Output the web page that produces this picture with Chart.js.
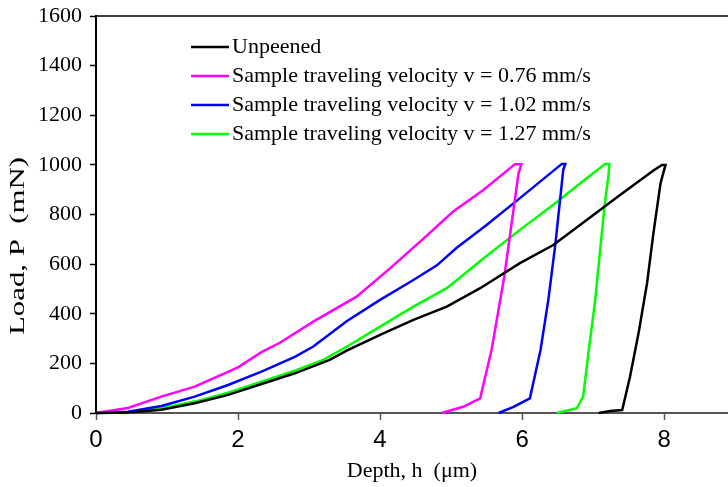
<!DOCTYPE html>
<html><head><meta charset="utf-8">
<script src="https://cdn.jsdelivr.net/npm/chart.js@4.4.0/dist/chart.umd.min.js"></script>
<style>html,body{margin:0;padding:0;background:#fff;}#wrap{width:728px;height:487px;position:relative;}</style>
</head><body><div id="wrap"><canvas id="c" width="728" height="487"></canvas></div>
<script>
const seriesLabels = ["Unpeened","Sample traveling velocity v = 0.76 mm/s","Sample traveling velocity v = 1.02 mm/s","Sample traveling velocity v = 1.27 mm/s"];
const seriesColors = ["#000000","#FF00FF","#0000FF","#00FF00"];

const unpeenedDepth = [0,0.45,0.92,1.39,1.86,2.33,2.8,3.29,3.53,4.0,4.47,4.94,5.41,5.97,6.44,6.91,7.38,7.85,7.97,8.02,7.95,7.85,7.76,7.64,7.52,7.41,7.24,7.08];
const unpeenedLoad  = [0,2,13,39,73,117,160,214,251,315,375,429,503,604,677,778,879,977,1000,1000,926,725,523,321,146,12,8,0];

const v076Depth = [0,0.45,0.92,1.39,2.0,2.33,2.59,3.06,3.67,4.14,4.6,5.03,5.45,5.9,5.99,5.95,5.75,5.57,5.41,5.17,4.87];
const v076Load  = [0,20,66,106,184,245,283,368,469,583,700,812,898,1003,1003,966,550,254,59,25,0];

const v102Depth = [0,0.45,0.92,1.39,1.86,2.33,2.8,3.06,3.53,4.0,4.47,4.8,5.08,5.5,5.97,6.56,6.61,6.58,6.47,6.37,6.26,6.11,5.88,5.67];
const v102Load  = [0,5,28,66,113,167,226,268,370,456,536,595,666,758,866,1004,1004,980,684,456,254,59,25,0];

const v127Depth = [0,0.45,0.92,1.39,1.86,2.33,2.8,3.2,3.53,4.0,4.47,4.94,5.5,5.97,6.44,6.91,7.17,7.23,7.22,7.16,7.10,7.03,6.94,6.86,6.77,6.49];
const v127Load  = [0,3,19,46,82,126,171,214,267,348,429,503,633,738,839,946,1004,1004,966,832,657,456,254,66,19,0];

const xTicks = [0,2,4,6,8];
const yTicks = [0,200,400,600,800,1000,1200,1400,1600];
const xTitle = "Depth, h  (\u03bcm)";
const yTitle = "Load, P  (mN)";

function pts(xs, ys){ return xs.map((x,i)=>({x:x, y:ys[i]})); }
const allDepth = [unpeenedDepth, v076Depth, v102Depth, v127Depth];
const allLoad = [unpeenedLoad, v076Load, v102Load, v127Load];

const datasets = seriesLabels.map((lab,i)=>({
  label: lab,
  data: pts(allDepth[i], allLoad[i]),
  borderColor: seriesColors[i],
  backgroundColor: seriesColors[i],
  borderWidth: 2.5,
  pointRadius: 0,
  showLine: true,
  fill: false,
  tension: 0,
  clip: false
}));

const SERIF = "'Liberation Serif','Times New Roman',serif";
const SANS = "'Liberation Sans',Arial,sans-serif";

const extras = {
  id: 'extras',
  afterDraw(chart){
    const ctx = chart.ctx, a = chart.chartArea;
    ctx.save();
    ctx.strokeStyle = '#000'; ctx.lineWidth = 1.5;
    ctx.beginPath(); ctx.moveTo(a.left, a.top); ctx.lineTo(a.right, a.top); ctx.stroke();
    const rows = [47, 76, 105, 134];
    chart.data.datasets.forEach((ds,i)=>{
      const y = rows[i];
      ctx.strokeStyle = ds.borderColor; ctx.lineWidth = 2.5;
      ctx.beginPath(); ctx.moveTo(191, y); ctx.lineTo(229, y); ctx.stroke();
      ctx.fillStyle = '#000';
      ctx.font = "22px " + SERIF;
      ctx.textBaseline = 'middle'; ctx.textAlign = 'left';
      ctx.fillText(ds.label, 232, y);
    });
    // y axis title (stretched along its length like the reference)
    ctx.translate(18, 246);
    ctx.rotate(-Math.PI / 2);
    ctx.scale(1.4, 1);
    ctx.font = "22px " + SERIF;
    ctx.textAlign = 'center'; ctx.textBaseline = 'middle';
    ctx.fillStyle = '#000';
    ctx.fillText(yTitle, 0, 0);
    ctx.restore();
  }
};

new Chart(document.getElementById('c'), {
  type: 'scatter',
  data: { datasets },
  options: {
    responsive: false,
    animation: false,
    devicePixelRatio: 1,
    layout: { padding: { top: 16, right: 0, bottom: 0, left: 0 } },
    plugins: { legend: { display: false }, tooltip: { enabled: false } },
    scales: {
      x: {
        type: 'linear', position: 'bottom', min: 0, max: 8.9,
        afterBuildTicks: s => { s.ticks = xTicks.map(v => ({ value: v })); },
        afterFit: s => { s.height = 74; s.paddingLeft = 0; s.paddingRight = 0; },
        grid: { drawOnChartArea: false, drawTicks: true, tickLength: 7, color: '#555', tickWidth: 1.5 },
        border: { display: true, color: '#555', width: 2 },
        ticks: { color: '#000', font: { family: SANS, size: 24 }, padding: 6, maxRotation: 0 },
        title: { display: true, text: xTitle, color: '#000', font: { family: SERIF, size: 22 }, padding: { top: 0, bottom: 3 } }
      },
      y: {
        type: 'linear', position: 'left', min: 0, max: 1600,
        afterBuildTicks: s => { s.ticks = yTicks.map(v => ({ value: v })); },
        afterFit: s => { s.width = 96; s.paddingTop = 0; s.paddingBottom = 0; },
        grid: { drawOnChartArea: false, drawTicks: true, tickLength: 6, color: '#000', tickWidth: 1.5 },
        border: { display: true, color: '#000', width: 2 },
        ticks: { color: '#000', font: { family: SERIF, size: 22 }, padding: 8, callback: v => String(v) },
        title: { display: false }
      }
    }
  },
  plugins: [extras]
});
</script></body></html>
